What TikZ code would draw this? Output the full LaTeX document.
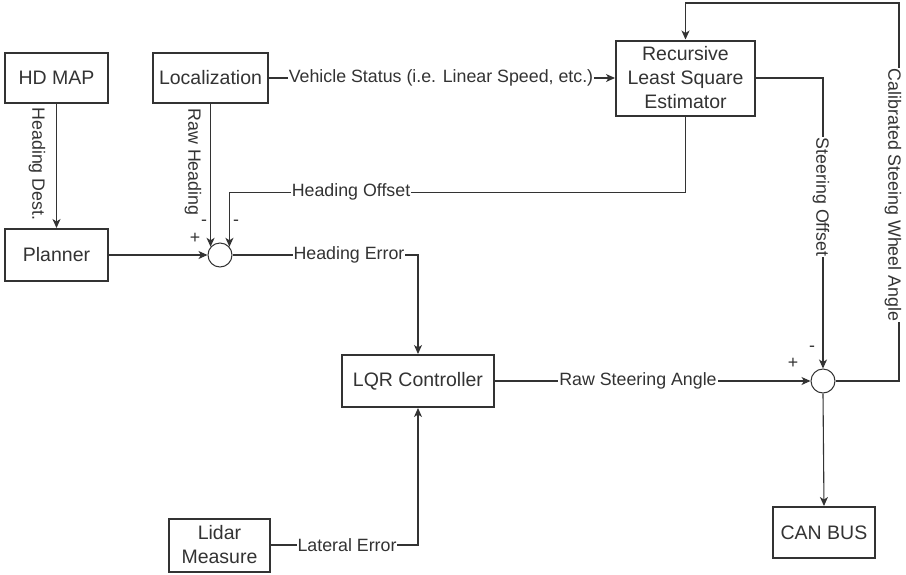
\documentclass[tikz,border=0pt]{standalone}
\usepackage{fontspec}
\setmainfont{Liberation Sans}
\usetikzlibrary{arrows.meta}
\definecolor{ink}{HTML}{333333}
\newcommand{\boxfont}{\fontsize{19.5}{24}\selectfont}
\newcommand{\lblfont}{\fontsize{17.8}{20}\selectfont}
\begin{document}
\begin{tikzpicture}[x=1pt,y=-1pt,
  box/.style={draw=ink, line width=2pt, fill=white, text=ink, font=\boxfont,
    align=center, inner sep=0pt},
  sumnode/.style={circle, draw=ink, line width=1pt, fill=white, minimum size=24pt, inner sep=0pt},
  conn/.style={draw=ink, line width=1.1pt},
  arr/.style={conn, -{Stealth[length=9pt,width=8pt,inset=2.5pt]}},
  lbl/.style={fill=white, text=ink, font=\lblfont, inner sep=1pt},
  sign/.style={text=ink, font=\lblfont, inner sep=0pt}]
\useasboundingbox (0,0) rectangle (906,574);

% blocks
\node[box, minimum width=103pt, minimum height=50pt] (hdmap) at (56.5,78) {HD MAP};
\node[box, minimum width=115pt, minimum height=50pt] (loc) at (210.5,78) {Localization};
\node[box, minimum width=103pt, minimum height=52pt] (planner) at (56.5,255) {Planner};
\node[box, minimum width=139pt, minimum height=75pt] (rls) at (685.5,78) {Recursive\\Least Square\\Estimator};
\node[box, minimum width=152pt, minimum height=52pt] (lqr) at (418,381) {LQR Controller};
\node[box, minimum width=102pt, minimum height=51pt] (can) at (824,532.5) {CAN BUS};
\node[box, minimum width=101pt, minimum height=53pt] (lidar) at (219.5,545) {Lidar\\Measure};

% summing junctions
\node[sumnode] (sum1) at (220,255) {};
\node[sumnode] (sum2) at (823,381) {};
\coordinate (fbR) at (899,3);

% connectors
\draw[arr] (hdmap.south) -- (planner.north);
\node[text=ink, font=\lblfont, rotate=-90] at (37,164) {Heading Dest.};

\draw[arr] (sum1.139 |- loc.south) -- (sum1.139);
\node[text=ink, font=\lblfont, rotate=-90] at (193,162) {Raw Heading};

\draw[arr] (rls.south) -- ++(0,76) -| (sum1.41);
\node[lbl] at (351,192) {Heading Offset};

\draw[arr] (planner.east) -- (sum1.west);

\draw[arr] (sum1.east) -| (lqr.north);
\node[lbl] at (349,255) {Heading Error};

\draw[arr] (lqr.east) -- (sum2.west);
\node[lbl] at (638,381) {Raw Steering Angle};

\draw[arr] (lidar.east) -| (lqr.south);
\node[lbl] at (347,545) {Lateral Error};

\draw[arr] (loc.east) -- (rls.west);
\node[lbl] at (441,78) {Vehicle Status (i.e. Linear Speed, etc.)};

\draw[arr] (rls.east) -| (sum2.north);
\node[lbl, rotate=-90] at (821,197) {Steering Offset};

\draw[arr] (sum2.east) -| (fbR) -| (rls.north);
\node[lbl, rotate=-90] at (893,195) {Calibrated Steeing Wheel Angle};

\draw[arr] (sum2.south) -- (can.north);

% signs
\node[sign] at (195,238) {+};
\node[sign] at (204,223) {-};
\node[sign] at (236,223) {-};
\node[sign] at (793,363) {+};
\node[sign] at (812,349) {-};
\end{tikzpicture}
\end{document}
